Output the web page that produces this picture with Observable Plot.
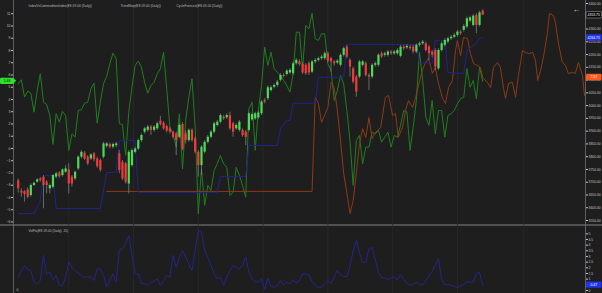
<!DOCTYPE html>
<html><head><meta charset="utf-8">
<script src="https://cdn.jsdelivr.net/npm/d3@7"></script>
<script src="https://cdn.jsdelivr.net/npm/@observablehq/plot@0.6"></script>
<style>
html,body{margin:0;padding:0;background:#1e1e1e;}
#wrap{position:relative;width:602px;height:293px;overflow:hidden;background:#1e1e1e;}
#wrap svg{position:absolute;left:0;}
#sep{position:absolute;left:0;top:224px;width:602px;height:2px;background:#505050;}
</style></head><body><div id="wrap"><div id="sep"></div></div>
<script>
// ---- data (bar index = trading day) ----
const opens = [3706,3665,3663,3670,3648,3687,3700,3713,3720,3700,
3674,3680,3720,3736,3726,3739,3748,3720,3713,3752,
3798,3814,3798,3791,3811,3791,3785,3798,3840,3848,
3837,3843,3811,3778,3772,3693,3765,3817,3830,3863,
3896,3903,3916,3903,3909,3939,3931,3918,3909,3896,
3889,3876,3926,3889,3863,3903,3870,3817,3765,3818,
3856,3876,3896,3922,3935,3955,3952,3961,3929,3909,
3903,3903,3896,3903,3944,3948,3952,3968,4020,4027,
4059,4072,4079,4099,4118,4122,4128,4125,4164,4171,
4161,4158,4164,4131,4171,4177,4184,4184,4203,4184,
4171,4167,4158,4197,4229,4177,4144,4112,4112,4158,
4164,4118,4112,4158,4158,4203,4197,4197,4210,4203,
4203,4193,4229,4226,4229,4229,4210,4236,4242,4242,
4229,4210,4216,4144,4216,4236,4249,4262,4268,4275,
4288,4295,4308,4331,4314,4353,4314,4370];
const highs = [3713,3674,3667,3678,3693,3700,3713,3718,3726,3706,
3693,3730,3739,3741,3752,3765,3772,3726,3743,3804,
3824,3820,3804,3811,3817,3798,3791,3856,3856,3853,
3853,3856,3824,3785,3778,3824,3830,3837,3869,3889,
3915,3922,3922,3922,3935,3958,3937,3924,3915,3900,
3896,3929,3933,3900,3909,3909,3876,3824,3843,3863,
3883,3903,3935,3942,3968,3961,3968,3974,3935,3929,
3942,3909,3903,3974,3971,3974,3978,4020,4027,4077,
4077,4085,4099,4125,4125,4141,4145,4171,4184,4180,
4167,4164,4171,4177,4184,4190,4197,4210,4210,4190,
4177,4180,4203,4229,4236,4184,4151,4118,4177,4177,
4171,4125,4164,4171,4203,4210,4210,4216,4216,4216,
4223,4236,4236,4239,4236,4236,4242,4249,4255,4249,
4236,4216,4223,4223,4249,4262,4268,4275,4282,4295,
4295,4317,4347,4350,4357,4360,4370,4376];
const lows = [3657,3641,3622,3635,3641,3683,3696,3700,3596,3654,
3654,3674,3713,3715,3720,3735,3654,3680,3706,3746,
3791,3785,3765,3785,3780,3755,3739,3791,3833,3830,
3830,3835,3733,3706,3693,3654,3759,3811,3824,3856,
3889,3896,3883,3896,3903,3920,3903,3893,3889,3870,
3804,3870,3824,3850,3856,3856,3811,3720,3726,3811,
3850,3870,3889,3916,3929,3942,3946,3903,3876,3903,
3896,3876,3843,3896,3939,3942,3946,3961,4007,4020,
4053,4066,4072,4092,4108,4116,4122,4118,4158,4154,
4122,4118,4118,4125,4164,4171,4177,4177,4167,4131,
4154,4161,4151,4190,4184,4112,4085,4033,4105,4151,
4112,4059,4105,4151,4151,4184,4190,4190,4197,4197,
4197,4187,4216,4220,4216,4203,4203,4229,4236,4210,
4177,4187,4138,4138,4210,4229,4242,4255,4262,4268,
4275,4288,4301,4325,4308,4282,4308,4357];
const closes = [3674,3657,3652,3641,3687,3696,3709,3706,3687,3687,
3687,3726,3733,3722,3748,3752,3693,3693,3739,3798,
3817,3791,3772,3807,3788,3761,3746,3850,3850,3837,
3848,3850,3746,3713,3700,3817,3824,3830,3863,3883,
3909,3916,3903,3916,3929,3926,3909,3900,3896,3876,
3863,3922,3830,3863,3903,3863,3818,3765,3837,3856,
3876,3896,3929,3935,3961,3948,3961,3909,3896,3922,
3935,3883,3876,3968,3965,3968,3971,4014,4014,4070,
4070,4079,4092,4118,4114,4135,4138,4164,4177,4161,
4128,4125,4128,4171,4177,4184,4190,4203,4174,4171,
4164,4174,4197,4223,4190,4151,4092,4053,4171,4171,
4118,4112,4158,4164,4197,4190,4203,4210,4203,4210,
4216,4229,4223,4232,4223,4210,4236,4242,4249,4216,
4203,4197,4151,4216,4242,4255,4262,4268,4275,4288,
4282,4310,4340,4344,4350,4314,4363,4353.75];

// TrendStep: [bar, price]
const trendStep = [[0,3577],[5,3577],[7,3628],[8,3726],[11,3726],[12,3597],[26,3597],[28,3738],[31,3738],[32,3864],[37,3864],[38,3660],[63,3660],[64,3722],[72,3722],[73,3844],[82,3844],[83,3910],[85,3942],[86,3942],[87,4009],[94,4009],[95,4111],[103,4111],[104,4240],[126,4240],[127,4169],[131,4165],[132,4256],[135,4256],[136,4130],[141,4126],[142,4216],[145,4244],[146,4264.75],[147,4264.75]];

// CycleForecast: [bar, value]
const cycleForecast = [[28,3664],[93,3664],[94,4033],[95,4008],[96,3934],[98,3993],[99,4091],[100,4071],[101,3981],[102,3863],[103,3734],[104,3660],[105,3577],[106,3628],[107,3734],[108,3852],[109,3910],[110,3875],[111,3953],[112,3871],[113,3895],[114.7,3914],[116.2,4032],[117.2,4040],[118.5,3961],[119.4,3969],[120.3,3875],[121.6,3914],[122.6,3981],[123.5,4020],[124.8,3993],[125.7,4028],[126.7,4079],[127.9,4138],[128.9,4169],[129.8,4185],[131.1,4126],[132,4149],[133,4087],[134.3,4028],[135.2,4008],[136.2,4071],[137.4,4098],[138.4,4216],[139,4255],[140,4196],[140.9,4267],[142.2,4263],[143.1,4204],[144.1,4165],[145.3,4157],[146.3,4149],[147,4110],[148.5,4091],[149.5,4071],[150.4,4149],[151.7,4169],[152.6,4149],[153.6,4067],[154.2,4028],[155.2,4087],[156.4,4091],[157.4,4032],[158.3,4118],[159.6,4216],[160.5,4208],[161.5,4204],[162.8,4208],[163.7,4177],[164.4,4098],[165.3,4138],[166.2,4188],[167.5,4286],[168.1,4361],[169.4,4353],[170,4326],[171,4243],[172.2,4169],[173.2,4157],[174.1,4126],[175.4,4130],[176.3,4126],[177.3,4169],[178.6,4118],[179.2,4040]];

// IndexVsCommoditiesIndex (left axis)
const indexVsCommodities = [5.28,5.61,4.19,4.68,4.51,2.96,4.73,6.10,3.78,3.59,
2.69,0.33,2.83,2.15,3.02,2.69,-0.16,1.20,0.92,3.10,
3.16,3.70,3.78,4.87,5.33,2.07,3.78,5.28,5.88,6.91,
7.78,7.32,2.02,1.96,-0.57,2.96,5.00,6.78,7.13,6.64,
5.41,4.51,5.14,5.41,6.10,6.51,7.86,4.87,1.74,1.20,
0.11,2.83,-1.66,2.29,4.19,5.69,1.74,-5.33,-1.66,-4.65,
-3.02,-3.43,-1.80,-1.25,-0.57,-1.25,-1.53,-3.84,-3.57,-1.53,
-2.20,-3.02,-3.98,3.24,3.78,-0.16,3.10,5.14,8.27,6.78,
7.86,6.51,6.23,5.96,5.55,5.14,4.60,6.10,9.49,9.49,
6.51,10.04,9.77,11.04,8.96,8.82,9.36,9.36,6.91,6.37,
3.92,4.73,5.96,5.28,3.10,0.65,-3.02,0.65,1.06,-1.25,
0.11,0.11,1.33,1.20,1.47,0.51,0.92,1.33,0.11,1.06,
0.92,1.88,3.10,3.00,-0.16,1.74,3.92,7.86,5.55,2.56,
1.88,3.92,1.20,3.10,3.10,0.92,2.69,2.83,3.10,3.65,
4.06,4.19,6.51,5.00,5.55,4.06,6.64,5.48];

// VolFix (lower panel)
const volFix = [1.17,1.76,2.20,1.83,1.76,0.73,0.59,0.88,3.09,1.47,
1.61,0.94,1.32,0.44,0.44,1.17,2.50,2.05,1.76,1.53,
1.32,1.12,1.23,1.12,0.88,1.91,1.91,1.32,0.29,0.88,
1.47,0.73,3.59,3.68,4.12,4.85,3.09,1.47,1.47,0.64,
0.59,0.44,0.73,0.82,1.03,0.44,0.88,1.32,1.17,3.09,
2.05,2.94,3.53,2.94,2.29,1.76,3.53,5.29,5.14,3.53,
2.94,2.20,1.47,1.03,1.17,0.44,1.17,1.76,2.20,2.05,
1.91,2.20,2.94,1.61,1.03,0.79,0.73,1.03,0.06,1.08,
0.35,0.29,0.44,0.88,0.44,0.73,0.59,0.97,0.68,0.88,
1.47,1.47,1.38,0.79,0.44,0.29,0.29,0.62,0.88,0.59,
1.23,1.76,1.41,1.23,1.23,2.12,3.53,4.41,3.35,2.47,
2.47,3.70,3.79,2.73,1.59,1.15,1.08,0.97,1.06,1.23,
0.97,1.38,0.97,0.62,0.44,0.57,0.71,0.53,0.49,0.88,
1.28,1.68,2.29,2.80,0.97,0.50,0.56,0.44,0.39,0.26,
0.41,0.56,0.75,0.73,0.73,1.50,1.60,0.47];

const priceTicks = [3550,3600,3650,3700,3750,3800,3850,3900,3950,4000,4050,4100,4150,4200,4250,4300,4400];
const leftTicks = [-6,-5,-4,-3,-2,-1,0,1,2,3,4,5,6,7,8,9,10,11];
const volTicks = [0,1,1.5,2,2.5,3,3.5,4,4.5,5];
const gridBars = [16,36.5,57,77.5,98,118.5,139,160];
const titles = ["IndexVsCommoditiesIndex(ES 09-00 (Daily))","TrendStep(ES 09-00 (Daily))","CycleForecast(ES 09-00 (Daily))"];
const volTitle = "VolFix(ES 09-00 (Daily), 20)";
const tagLabels = {price: "4353.75", trend: "4264.75", cycle: "7.57", index: "5.48", vol: "0.47"};

// ---- drawing ----
const idx = d3.range(opens.length);
const xDomain = [-1.49, 179.53];
const font = "'Liberation Sans', Arial, sans-serif";
const common = {width: 602, marginLeft: 13, marginRight: 17, marginTop: 0, marginBottom: 0,
  style: {background: "transparent", color: "#c2c2c2", fontFamily: font, fontSize: "3.4px"}};
const wrap = document.getElementById("wrap");

const greenPlot = Plot.plot({
  ...common, height: 226,
  x: {domain: xDomain, axis: null},
  y: {domain: [-6.37, 12.08], axis: "left", ticks: leftTicks, tickSize: 2, tickPadding: 1, label: null},
  marks: [
    Plot.ruleX(gridBars, {stroke: "#292929", strokeWidth: 0.8}),
    Plot.line(idx, {x: i => i, y: i => indexVsCommodities[i], stroke: "#1f7f1f", strokeWidth: 1}),
    Plot.ruleX(xDomain, {stroke: "#707070", strokeWidth: 0.8})
  ]
});

const up = idx.filter(i => closes[i] >= opens[i]);
const dn = idx.filter(i => closes[i] < opens[i]);
const pricePlot = Plot.plot({
  ...common, height: 226,
  x: {domain: xDomain, axis: null},
  y: {domain: [3526.5, 4411.7], axis: "right", ticks: priceTicks, tickFormat: d => d.toFixed(2), tickSize: 2, tickPadding: 1, label: null},
  marks: [
    Plot.line(cycleForecast, {x: d => d[0], y: d => d[1], stroke: "#8c3a16", strokeWidth: 1}),
    Plot.line(trendStep, {x: d => d[0], y: d => d[1], stroke: "#22228e", strokeWidth: 1}),
    Plot.ruleX(idx, {x: i => i, y1: i => lows[i], y2: i => highs[i], stroke: "#8a8a8a", strokeWidth: 0.7}),
    Plot.ruleX(up, {x: i => i, y1: i => opens[i], y2: i => closes[i], stroke: "#48dc57", strokeWidth: 2.2}),
    Plot.ruleX(dn, {x: i => i, y1: i => opens[i], y2: i => closes[i], stroke: "#ef3b3b", strokeWidth: 2.2}),
    Plot.text([titles[0]], {frameAnchor: "top-left", dx: 15, dy: 4, textAnchor: "start", fontSize: 3.2, fill: "#bdbdbd"}),
    Plot.text([titles[1]], {frameAnchor: "top-left", dx: 107, dy: 4, textAnchor: "start", fontSize: 3.2, fill: "#bdbdbd"}),
    Plot.text([titles[2]], {frameAnchor: "top-left", dx: 163, dy: 4, textAnchor: "start", fontSize: 3.2, fill: "#bdbdbd"}),
    Plot.text(["\u2190"], {frameAnchor: "top-right", dx: -5, dy: 6, fontSize: 8, fill: "#dcdcdc"})
  ]
});

const volPlot = Plot.plot({
  ...common, height: 67,
  x: {domain: xDomain, axis: null},
  y: {domain: [-0.265, 5.644], axis: "right", ticks: volTicks, tickFormat: d => String(d), tickSize: 2, tickPadding: 1, label: null},
  marks: [
    Plot.ruleX(gridBars, {stroke: "#292929", strokeWidth: 0.8}),
    Plot.line(idx, {x: i => i, y: i => volFix[i], stroke: "#24248c", strokeWidth: 1}),
    Plot.ruleX(xDomain, {stroke: "#707070", strokeWidth: 0.8}),
    Plot.text([volTitle], {frameAnchor: "top-left", dx: 15, dy: 3.5, textAnchor: "start", fontSize: 3.2, fill: "#bdbdbd"}),
    Plot.text(["0"], {frameAnchor: "bottom-left", dx: 3, dy: -3, fontSize: 3.4, fill: "#bdbdbd"})
  ]
});

[[greenPlot, 0], [pricePlot, 0], [volPlot, 226]].forEach(([svg, top]) => {
  svg.style.position = "absolute"; svg.style.top = top + "px"; svg.style.left = "0px";
  wrap.appendChild(svg);
});

function tag(svg, x, w, y, fill, stroke, color, label, pointer) {
  const g = d3.select(svg).append("g").attr("font-family", font).attr("font-size", 3.4);
  g.append("rect").attr("x", x).attr("y", y - 3.2).attr("width", w).attr("height", 6.4)
    .attr("rx", 1.2).attr("fill", fill).attr("stroke", stroke).attr("stroke-width", 0.5);
  if (pointer) g.append("path").attr("d", `M${x + w},${y - 2}L${x + w + 2.2},${y}L${x + w},${y + 2}Z`).attr("fill", fill);
  g.append("text").attr("x", x + w / 2).attr("y", y).attr("dy", "0.35em").attr("text-anchor", "middle")
    .attr("fill", color).text(label);
}
const yP = pricePlot.scale("y"), yG = greenPlot.scale("y"), yV = volPlot.scale("y");
const last = opens.length - 1;
tag(pricePlot, 586, 15.5, yP.apply(closes[last]), "#050505", "#bcbcbc", "#ffffff", tagLabels.price);
tag(pricePlot, 586, 15.5, yP.apply(trendStep[trendStep.length - 1][1]), "#2233ee", "none", "#ffffff", tagLabels.trend);
tag(pricePlot, 586, 15.5, yP.apply(cycleForecast.find(d => d[0] === last)[1]), "#ff5a1c", "none", "#ffffff", tagLabels.cycle);
tag(greenPlot, 0, 14, yG.apply(indexVsCommodities[last]), "#2fe02f", "none", "#0b240b", tagLabels.index, true);
tag(volPlot, 586, 15.5, yV.apply(volFix[last]), "#2233ee", "none", "#ffffff", tagLabels.vol);
</script>
</body></html>
